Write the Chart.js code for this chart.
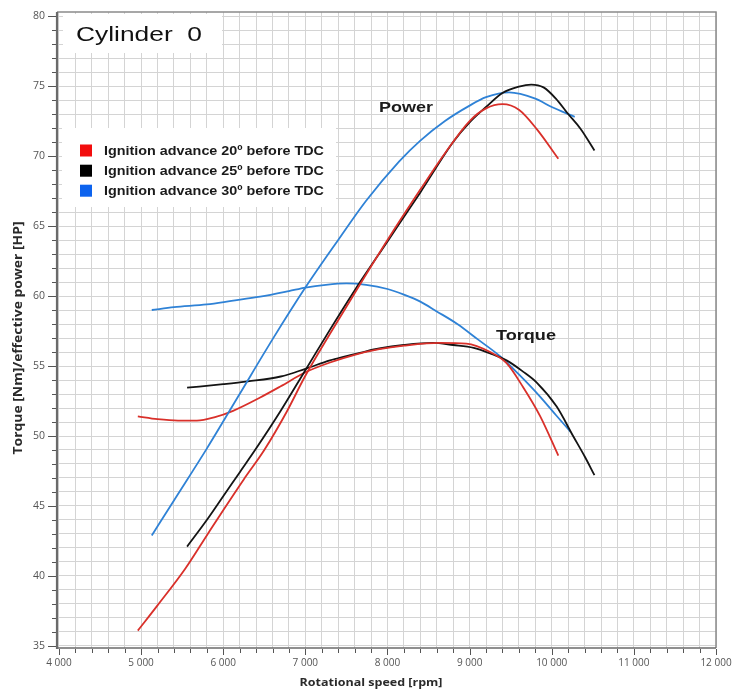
<!DOCTYPE html>
<html>
<head>
<meta charset="utf-8">
<script src="https://cdn.jsdelivr.net/npm/chart.js@4.4.1/dist/chart.umd.min.js"></script>
<style>
html,body{margin:0;padding:0;background:#fff;}
canvas{display:block;}
</style>
</head>
<body>
<canvas id="c" width="732" height="691"></canvas>
<script>
// ---------- data ----------
const seriesNames = ['Ignition advance 20º before TDC', 'Ignition advance 25º before TDC', 'Ignition advance 30º before TDC'];

// Power curves [HP]
const power20Rpm = [4960, 5200, 5535, 5800, 6000, 6250, 6500, 6770, 7000, 7300, 7600, 8000, 8400, 8700, 9000, 9200, 9400, 9600, 9820, 10080];
const power20Hp  = [36.1, 37.9, 40.5, 42.9, 44.7, 46.9, 49.0, 51.7, 54.3, 57.3, 60.2, 64.0, 67.6, 70.2, 72.5, 73.4, 73.7, 73.3, 71.9, 69.8];

const power25Rpm = [5560, 5800, 6000, 6200, 6400, 6700, 7000, 7300, 7600, 8000, 8400, 8800, 9000, 9200, 9400, 9600, 9750, 9900, 10050, 10200, 10350, 10520];
const power25Hp  = [42.1, 44.0, 45.7, 47.4, 49.1, 51.8, 54.7, 57.6, 60.4, 63.9, 67.4, 71.0, 72.4, 73.5, 74.5, 74.95, 75.1, 74.9, 74.1, 73.0, 71.95, 70.4];

const power30Rpm = [5130, 5400, 5800, 6200, 6600, 7000, 7400, 7740, 8140, 8400, 8700, 9000, 9200, 9480, 9800, 10000, 10280];
const power30Hp  = [42.9, 45.4, 49.1, 53.0, 56.9, 60.6, 64.0, 66.8, 69.6, 71.1, 72.5, 73.6, 74.2, 74.55, 74.1, 73.5, 72.8];

// Torque curves [Nm]
const torque20Rpm = [4960, 5200, 5450, 5680, 5900, 6120, 6450, 6700, 7000, 7300, 7600, 7900, 8200, 8640, 8960, 9250, 9450, 9650, 9860, 10080];
const torque20Nm  = [51.4, 51.2, 51.1, 51.1, 51.35, 51.8, 52.75, 53.55, 54.55, 55.25, 55.8, 56.2, 56.45, 56.65, 56.6, 56.0, 55.2, 53.5, 51.4, 48.6];

const torque25Rpm = [5560, 6000, 6300, 6700, 7000, 7300, 7500, 7740, 7900, 8200, 8550, 8800, 9050, 9250, 9450, 9650, 9820, 10060, 10260, 10400, 10520];
const torque25Nm  = [53.45, 53.7, 53.9, 54.25, 54.8, 55.4, 55.7, 56.05, 56.25, 56.5, 56.65, 56.5, 56.3, 55.9, 55.4, 54.6, 53.8, 52.1, 50.0, 48.55, 47.2];

const torque30Rpm = [5130, 5400, 5800, 6100, 6450, 6800, 7000, 7250, 7500, 7740, 8000, 8200, 8400, 8600, 8850, 9100, 9370, 9600, 9860, 10050, 10230];
const torque30Nm  = [59.0, 59.2, 59.4, 59.65, 59.95, 60.35, 60.6, 60.8, 60.9, 60.8, 60.5, 60.1, 59.6, 58.9, 58.0, 56.9, 55.7, 54.4, 52.8, 51.5, 50.3];

// Axis ticks
const xTickValues = [4000, 5000, 6000, 7000, 8000, 9000, 10000, 11000, 12000];
const xTickLabels = ['4 000', '5 000', '6 000', '7 000', '8 000', '9 000', '10 000', '11 000', '12 000'];
const yTickValues = [35, 40, 45, 50, 55, 60, 65, 70, 75, 80];
const yTickLabels = ['35', '40', '45', '50', '55', '60', '65', '70', '75', '80'];

// ---------- styling ----------
const lineColors = ['#d9302a', '#141414', '#2f82d6'];
const legendColors = ['#f20d0d', '#000000', '#0d63ee'];

function pts(xs, ys) { return xs.map((v, i) => ({ x: v, y: ys[i] })); }
function ds(xs, ys, c) {
  return { data: pts(xs, ys), borderColor: c, backgroundColor: c, borderWidth: 1.8,
           pointRadius: 0, cubicInterpolationMode: 'monotone', fill: false };
}

const xGrid = []; for (let v = 4000; v <= 12000; v += 200) xGrid.push(v);
const yGrid = []; for (let v = 35; v <= 80; v += 1) yGrid.push(v);

function drawFit(ctx, text, x, y, font, width, align) {
  ctx.save();
  ctx.font = font;
  const w = ctx.measureText(text).width;
  const sx = width / w;
  let x0 = x;
  if (align === 'center') x0 = x - width / 2;
  ctx.translate(x0, y);
  ctx.scale(sx, 1);
  ctx.textAlign = 'left';
  ctx.fillText(text, 0, 0);
  ctx.restore();
}

const decor = {
  id: 'decor',
  beforeDatasetsDraw(chart) {
    const ctx = chart.ctx;
    ctx.save();
    ctx.fillStyle = '#ffffff';
    ctx.fillRect(63, 14, 159, 39);
    ctx.fillRect(62, 128, 274, 79);
    ctx.restore();
  },
  afterDatasetsDraw(chart) {
    const { ctx, chartArea: a, scales } = chart;
    const xs = scales.x, ys = scales.y;
    ctx.save();
    ctx.strokeStyle = '#8a8a8a';
    ctx.lineWidth = 1.5;
    ctx.beginPath();
    ctx.moveTo(a.left, a.top); ctx.lineTo(a.right, a.top); ctx.lineTo(a.right, a.bottom);
    ctx.stroke();
    ctx.strokeStyle = '#6a6a6a';
    ctx.lineWidth = 1.5;
    ctx.beginPath(); ctx.moveTo(a.left, a.bottom); ctx.lineTo(a.right, a.bottom); ctx.stroke();
    ctx.lineWidth = 2.2;
    ctx.beginPath(); ctx.moveTo(a.left, a.top); ctx.lineTo(a.left, a.bottom + 1); ctx.stroke();

    ctx.strokeStyle = '#555';
    ctx.lineWidth = 1;
    yGrid.forEach(v => {
      const py = Math.round(ys.getPixelForValue(v)) + 0.5;
      const len = (v % 5 === 0) ? 8 : 4;
      ctx.beginPath(); ctx.moveTo(a.left - 1 - len, py); ctx.lineTo(a.left - 1, py); ctx.stroke();
    });
    xGrid.forEach(v => {
      const px = Math.round(xs.getPixelForValue(v)) + 0.5;
      const len = (v % 1000 === 0) ? 6 : 4;
      ctx.beginPath(); ctx.moveTo(px, a.bottom + 1); ctx.lineTo(px, a.bottom + 1 + len); ctx.stroke();
    });

    ctx.fillStyle = '#111';
    ctx.textBaseline = 'alphabetic';
    drawFit(ctx, 'Cylinder  0', 76, 41, '21px "Liberation Sans", Arial, sans-serif', 126);

    const rowsY = [150.5, 170.7, 190.7];
    seriesNames.forEach((name, i) => {
      ctx.fillStyle = legendColors[i];
      ctx.fillRect(80, rowsY[i] - 6, 12, 12);
      ctx.fillStyle = '#1a1a1a';
      drawFit(ctx, name, 104, rowsY[i] + 4.5, 'bold 12px "Liberation Sans", Arial, sans-serif', 220);
    });

    ctx.fillStyle = '#1a1a1a';
    drawFit(ctx, 'Power', 379, 112, 'bold 14px "Liberation Sans", Arial, sans-serif', 54);
    drawFit(ctx, 'Torque', 496, 340, 'bold 14px "Liberation Sans", Arial, sans-serif', 60);

    ctx.fillStyle = '#2a2a2a';
    drawFit(ctx, 'Rotational speed [rpm]', 371, 686, 'bold 11px "Open Sans", sans-serif', 143, 'center');
    ctx.save();
    ctx.translate(22, 338);
    ctx.rotate(-Math.PI / 2);
    drawFit(ctx, 'Torque [Nm]/effective power [HP]', 0, 0, 'bold 12px "Open Sans", sans-serif', 233, 'center');
    ctx.restore();
    ctx.restore();
  }
};

new Chart(document.getElementById('c').getContext('2d'), {
  type: 'line',
  data: {
    datasets: [
      ds(power20Rpm, power20Hp, lineColors[0]),
      ds(power25Rpm, power25Hp, lineColors[1]),
      ds(power30Rpm, power30Hp, lineColors[2]),
      ds(torque20Rpm, torque20Nm, lineColors[0]),
      ds(torque25Rpm, torque25Nm, lineColors[1]),
      ds(torque30Rpm, torque30Nm, lineColors[2])
    ]
  },
  options: {
    responsive: false,
    animation: false,
    layout: { padding: { top: 12, right: 16, left: 0, bottom: 0 } },
    plugins: { legend: { display: false }, tooltip: { enabled: false }, title: { display: false } },
    scales: {
      x: {
        type: 'linear', min: 3976, max: 12000,
        afterBuildTicks: s => { s.ticks = xGrid.map(v => ({ value: v })); },
        afterFit: s => { s.height = 43; s.paddingLeft = 0; s.paddingRight = 0; },
        border: { display: false },
        grid: { color: '#d4d4d4', lineWidth: 1, drawTicks: false },
        ticks: {
          autoSkip: false, maxRotation: 0, minRotation: 0, padding: 9,
          color: '#555', font: { family: 'Open Sans', size: 10 },
          callback: v => { const i = xTickValues.indexOf(v); return i >= 0 ? xTickLabels[i] : ''; }
        }
      },
      y: {
        type: 'linear', min: 34.857, max: 80.286,
        afterBuildTicks: s => { s.ticks = yGrid.map(v => ({ value: v })); },
        afterFit: s => { s.width = 57; s.paddingTop = 0; s.paddingBottom = 0; },
        border: { display: false },
        grid: { color: '#d4d4d4', lineWidth: 1, drawTicks: false },
        ticks: {
          autoSkip: false, padding: 12,
          color: '#555', font: { family: 'Open Sans', size: 10.5 },
          callback: v => { const i = yTickValues.indexOf(v); return i >= 0 ? yTickLabels[i] : ''; }
        }
      }
    }
  },
  plugins: [decor]
});
</script>
</body>
</html>
